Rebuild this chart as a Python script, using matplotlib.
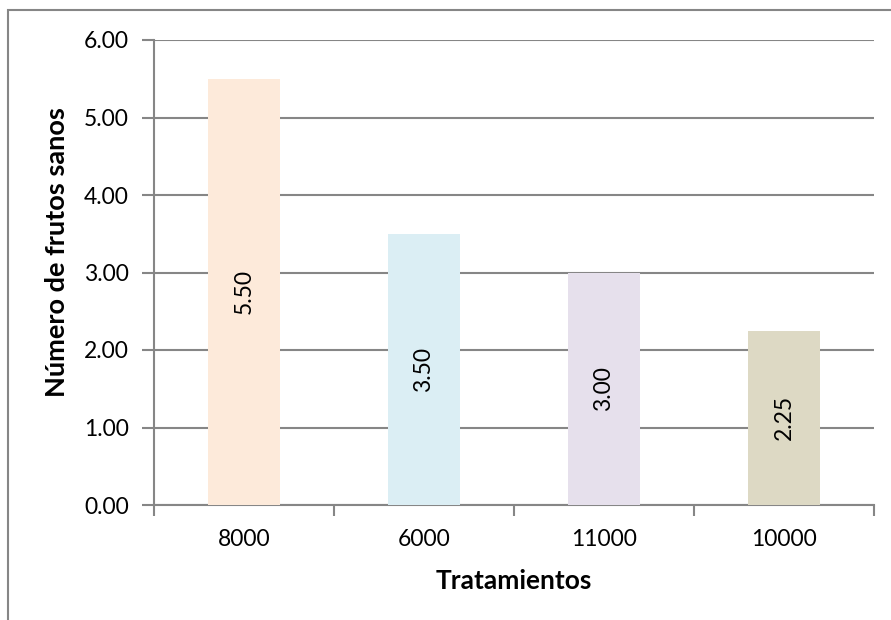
import numpy as np
import matplotlib
matplotlib.use("Agg")
import matplotlib.pyplot as plt
from matplotlib.patches import Rectangle

# --- data ---
tratamientos = ["8000", "6000", "11000", "10000"]
frutos_sanos = [5.50, 3.50, 3.00, 2.25]
colores = ["#FDEADA", "#DBEEF4", "#E6E0EC", "#DDD9C4"]
y_ticks = [0, 1, 2, 3, 4, 5, 6]

plt.rcParams["font.family"] = ["Lato", "DejaVu Sans"]
FS = 16.5
FS_TITULO = 19.5
GRIS = "#868686"

W, H = 891, 620
fig = plt.figure(figsize=(W / 100, H / 100), dpi=100)

# chart frame (runs off the right and bottom edges)
fig.patches.append(Rectangle((8 / W, -0.1), 1.2, (H - 10) / H + 0.1,
                             transform=fig.transFigure, fill=False,
                             edgecolor=GRIS, linewidth=1.5))

ax = fig.add_axes([154 / W, (H - 505) / H, 720 / W, 465 / H])

x = np.arange(len(tratamientos))
bars = ax.bar(x, frutos_sanos, width=0.405, color=colores, zorder=3)

for b, v in zip(bars, frutos_sanos):
    ax.text(b.get_x() + b.get_width() / 2, v / 2, f"{v:.2f}",
            rotation=90, ha="center", va="center", fontsize=FS, zorder=4)

ax.set_xlim(-0.5, len(tratamientos) - 0.5)
ax.set_ylim(0, 6)
ax.set_yticks(y_ticks)
ax.set_yticklabels([f"{t:.2f}" for t in y_ticks], fontsize=FS)
ax.yaxis.grid(True, color=GRIS, linewidth=1.5, zorder=0)
ax.set_axisbelow(True)

# category ticks sit between bars, labels centred under them
ax.set_xticks(np.arange(len(tratamientos) + 1) - 0.5)
ax.set_xticklabels([])
ax.set_xticks(x, minor=True)
ax.set_xticklabels(tratamientos, minor=True, fontsize=FS)
ax.tick_params(axis="x", which="minor", length=0, pad=17)
ax.tick_params(axis="x", which="major", length=8, width=1.5, color=GRIS)
ax.tick_params(axis="y", length=9, width=1.5, color=GRIS, pad=9)

for s in ["top", "right"]:
    ax.spines[s].set_visible(False)
for s in ["left", "bottom"]:
    ax.spines[s].set_color(GRIS)
    ax.spines[s].set_linewidth(1.5)

ax.set_xlabel("Tratamientos", fontsize=19, fontweight="bold", labelpad=14)
ax.set_ylabel("Número de frutos sanos", fontsize=FS_TITULO, fontweight="bold",
              va="center")
ax.yaxis.set_label_coords(-0.135, 0.544)

fig.savefig("out.png", dpi=100)
